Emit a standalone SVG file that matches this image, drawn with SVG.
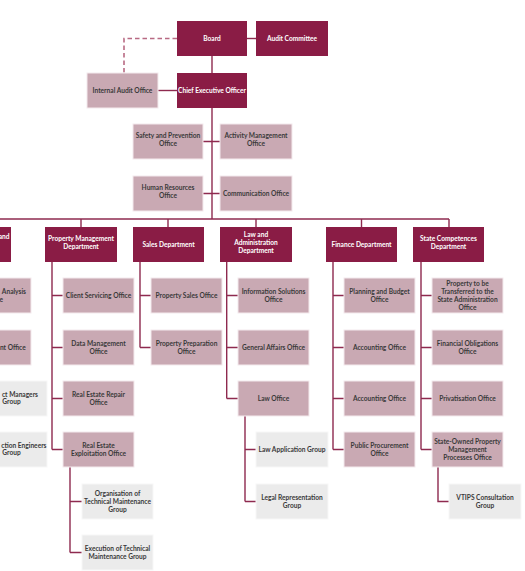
<svg xmlns="http://www.w3.org/2000/svg" width="525" height="571" viewBox="0 0 525 571">
<style>
.dk{fill:#8a1c45}
.lt{fill:#c9a9b3;stroke:#f4eaed;stroke-width:1}
.gr{fill:#ebebeb;stroke:#f7f7f7;stroke-width:1}
text{font-family:Lato,"Liberation Sans",sans-serif;font-weight:700;font-size:6.6px;text-anchor:middle}
.w{fill:#ffffff}
.k{fill:#3a3a3a}
.ln{stroke:#8e2a4f;stroke-width:1.4;fill:none}
.ds{stroke:#b86a83;stroke-width:1.6;fill:none;stroke-dasharray:4.5 3}
</style>
<rect width="525" height="571" fill="#ffffff"/>
<g id="connectors">
<path class="ds" d="M177 38.5H124V73"/>
<path class="ln" d="M247 38.5H256"/>
<path class="ln" d="M212 56V73"/>
<path class="ln" d="M158 90.5H177"/>
<path class="ln" d="M212 108V219"/>
<path class="ln" d="M203 141.5H220M203 193.5H220"/>
<path class="ln" d="M0 219H449"/>
<path class="ln" d="M81 219V227M168 219V227M256 219V227M361.5 219V227M449 219V227"/>
<path class="ln" d="M52 262V449.5M52 295.5H63M52 347.5H63M52 398.5H63M52 449.5H63"/>
<path class="ln" d="M70 467V552.5M70 501.5H82M70 552.5H82"/>
<path class="ln" d="M140 262V347.5M140 295.5H151M140 347.5H151"/>
<path class="ln" d="M226.7 262V398.5M226.7 295.5H238M226.7 347.5H238M226.7 398.5H238"/>
<path class="ln" d="M245 416V501.5M245 449.5H256M245 501.5H256"/>
<path class="ln" d="M333 262V449.5M333 295.5H344M333 347.5H344M333 398.5H344M333 449.5H344"/>
<path class="ln" d="M421 262V449.5M421 295.5H432M421 347.5H432M421 398.5H432M421 449.5H432"/>
<path class="ln" d="M438 467V501.5H449"/>
</g>
<g id="board"><rect class="dk" x="177" y="21" width="70" height="35"/><text class="w" x="212" y="40.8">Board</text></g>
<g id="audit-committee"><rect class="dk" x="256" y="21" width="72" height="35"/><text class="w" x="292" y="40.8">Audit Committee</text></g>
<g id="internal-audit"><rect class="lt" x="87" y="73" width="71" height="35"/><text class="k" x="122.5" y="92.8">Internal Audit Office</text></g>
<g id="ceo"><rect class="dk" x="177" y="73" width="70" height="35"/><text class="w" x="212" y="92.8">Chief Executive Officer</text></g>
<g id="safety"><rect class="lt" x="133" y="124" width="70" height="35"/><text class="k" x="168" y="137.9">Safety and Prevention<tspan x="168" dy="7.8">Office</tspan></text></g>
<g id="activity"><rect class="lt" x="220" y="124" width="72" height="35"/><text class="k" x="256" y="137.9">Activity Management<tspan x="256" dy="7.8">Office</tspan></text></g>
<g id="hr"><rect class="lt" x="133" y="176" width="70" height="35"/><text class="k" x="168" y="189.9">Human Resources<tspan x="168" dy="7.8">Office</tspan></text></g>
<g id="communication"><rect class="lt" x="220" y="176" width="72" height="35"/><text class="k" x="256" y="195.8">Communication Office</text></g>

<g id="dept-left"><rect class="dk" x="-61" y="227" width="72" height="35"/><text class="w" x="9.5" y="239" style="text-anchor:end">and</text></g>
<g id="dept-pm"><rect class="dk" x="45" y="227" width="72" height="35"/><text class="w" x="81" y="240.9">Property Management<tspan x="81" dy="7.8">Department</tspan></text></g>
<g id="dept-sales"><rect class="dk" x="133" y="227" width="71" height="35"/><text class="w" x="168.5" y="246.8">Sales Department</text></g>
<g id="dept-law"><rect class="dk" x="220" y="227" width="72" height="35"/><text class="w" x="256" y="237">Law and<tspan x="256" dy="7.8">Administration</tspan><tspan x="256" dy="7.8">Department</tspan></text></g>
<g id="dept-finance"><rect class="dk" x="326" y="227" width="71" height="35"/><text class="w" x="361.5" y="246.8">Finance Department</text></g>
<g id="dept-state"><rect class="dk" x="413" y="227" width="71" height="35"/><text class="w" x="448.5" y="240.9">State Competences<tspan x="448.5" dy="7.8">Department</tspan></text></g>

<g id="left-analysis"><rect class="lt" x="-40" y="278" width="71" height="35"/><text class="k" x="26" y="293.9" style="text-anchor:end">Analysis<tspan x="3" dy="7.8">e</tspan></text></g>
<g id="left-office"><rect class="lt" x="-40" y="330" width="71" height="35"/><text class="k" x="25.7" y="349.8" style="text-anchor:end">nt Office</text></g>
<g id="left-managers"><rect class="gr" x="-24" y="381" width="71" height="35"/><text class="k" x="38" y="396.6" style="text-anchor:end">ct Managers</text><text class="k" x="11.5" y="404.4">Group</text></g>
<g id="left-engineers"><rect class="gr" x="-24" y="432" width="71" height="35"/><text class="k" x="46.5" y="447.6" style="text-anchor:end">ction Engineers</text><text class="k" x="11.5" y="455.4">Group</text></g>

<g id="client-servicing"><rect class="lt" x="63" y="278" width="71" height="35"/><text class="k" x="98.5" y="297.8">Client Servicing Office</text></g>
<g id="data-management"><rect class="lt" x="63" y="330" width="71" height="35"/><text class="k" x="98.5" y="345.9">Data Management<tspan x="98.5" dy="7.8">Office</tspan></text></g>
<g id="re-repair"><rect class="lt" x="63" y="381" width="71" height="35"/><text class="k" x="98.5" y="396.9">Real Estate Repair<tspan x="98.5" dy="7.8">Office</tspan></text></g>
<g id="re-exploitation"><rect class="lt" x="63" y="432" width="71" height="35"/><text class="k" x="98.5" y="447.9">Real Estate<tspan x="98.5" dy="7.8">Exploitation Office</tspan></text></g>
<g id="org-tech"><rect class="gr" x="82" y="484" width="71" height="35"/><text class="k" x="117.5" y="496">Organisation of<tspan x="117.5" dy="7.8">Technical Maintenance</tspan><tspan x="117.5" dy="7.8">Group</tspan></text></g>
<g id="exec-tech"><rect class="gr" x="82" y="535" width="71" height="35"/><text class="k" x="117.5" y="550.9">Execution of Technical<tspan x="117.5" dy="7.8">Maintenance Group</tspan></text></g>

<g id="property-sales"><rect class="lt" x="151" y="278" width="71" height="35"/><text class="k" x="186.5" y="297.8">Property Sales Office</text></g>
<g id="property-prep"><rect class="lt" x="151" y="330" width="71" height="35"/><text class="k" x="186.5" y="345.9">Property Preparation<tspan x="186.5" dy="7.8">Office</tspan></text></g>

<g id="info-solutions"><rect class="lt" x="238" y="278" width="71" height="35"/><text class="k" x="273.5" y="293.9">Information Solutions<tspan x="273.5" dy="7.8">Office</tspan></text></g>
<g id="general-affairs"><rect class="lt" x="238" y="330" width="71" height="35"/><text class="k" x="273.5" y="349.8">General Affairs Office</text></g>
<g id="law-office"><rect class="lt" x="238" y="381" width="71" height="35"/><text class="k" x="273.5" y="400.8">Law Office</text></g>
<g id="law-application"><rect class="gr" x="256" y="432" width="72" height="35"/><text class="k" x="292" y="451.8">Law Application Group</text></g>
<g id="legal-rep"><rect class="gr" x="256" y="484" width="72" height="35"/><text class="k" x="292" y="499.9">Legal Representation<tspan x="292" dy="7.8">Group</tspan></text></g>

<g id="planning-budget"><rect class="lt" x="344" y="278" width="71" height="35"/><text class="k" x="379.5" y="293.9">Planning and Budget<tspan x="379.5" dy="7.8">Office</tspan></text></g>
<g id="accounting-1"><rect class="lt" x="344" y="330" width="71" height="35"/><text class="k" x="379.5" y="349.8">Accounting Office</text></g>
<g id="accounting-2"><rect class="lt" x="344" y="381" width="71" height="35"/><text class="k" x="379.5" y="400.8">Accounting Office</text></g>
<g id="public-procurement"><rect class="lt" x="344" y="432" width="71" height="35"/><text class="k" x="379.5" y="447.9">Public Procurement<tspan x="379.5" dy="7.8">Office</tspan></text></g>

<g id="property-transfer"><rect class="lt" x="432" y="278" width="71" height="35"/><text class="k" x="467.5" y="286.1">Property to be<tspan x="467.5" dy="7.8">Transferred to the</tspan><tspan x="467.5" dy="7.8">State Administration</tspan><tspan x="467.5" dy="7.8">Office</tspan></text></g>
<g id="financial-obligations"><rect class="lt" x="432" y="330" width="71" height="35"/><text class="k" x="467.5" y="345.9">Financial Obligations<tspan x="467.5" dy="7.8">Office</tspan></text></g>
<g id="privatisation"><rect class="lt" x="432" y="381" width="71" height="35"/><text class="k" x="467.5" y="400.8">Privatisation Office</text></g>
<g id="state-owned"><rect class="lt" x="432" y="432" width="71" height="35"/><text class="k" x="467.5" y="444">State-Owned Property<tspan x="467.5" dy="7.8">Management</tspan><tspan x="467.5" dy="7.8">Processes Office</tspan></text></g>
<g id="vtips"><rect class="gr" x="449" y="484" width="72" height="35"/><text class="k" x="485" y="499.9">VTIPS Consultation<tspan x="485" dy="7.8">Group</tspan></text></g>
</svg>
